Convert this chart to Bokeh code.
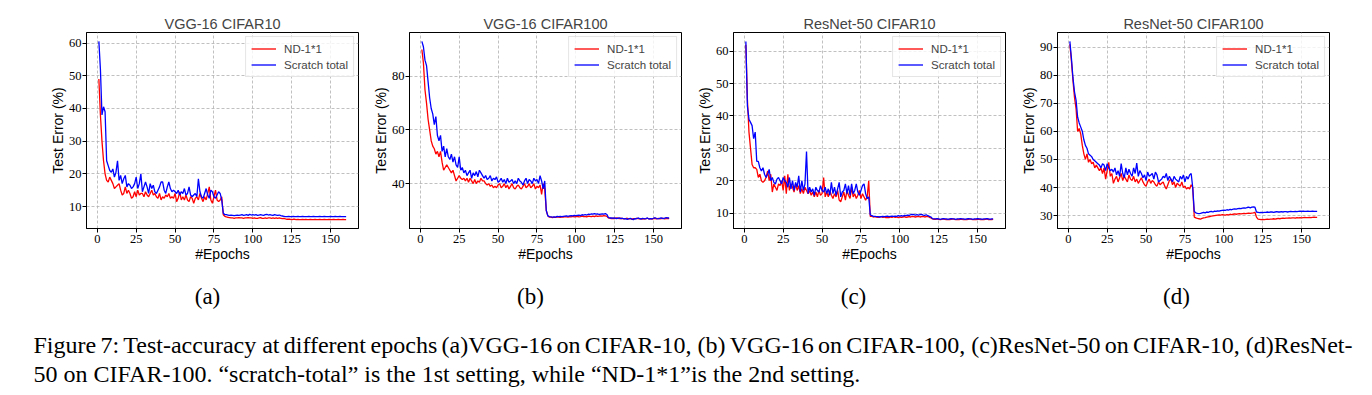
from bokeh.plotting import figure
from bokeh.layouts import column, row
from bokeh.models import Range1d, FixedTicker, Legend, LegendItem, Label
from bokeh.embed import file_html
from bokeh.resources import INLINE

EPOCHS = list(range(1, 161))
X_TICKS = [0, 25, 50, 75, 100, 125, 150]
TITLES = ["VGG-16 CIFAR10", "VGG-16 CIFAR100", "ResNet-50 CIFAR10", "ResNet-50 CIFAR100"]
SUBCAPTIONS = ["(a)", "(b)", "(c)", "(d)"]
SERIES_NAMES = ["ND-1*1", "Scratch total"]
Y_TICKS = [[10, 20, 30, 40, 50, 60], [40, 60, 80], [10, 20, 30, 40, 50, 60], [30, 40, 50, 60, 70, 80, 90]]
CAPTION_1 = ("Figure 7: Test-accuracy at different epochs (a)VGG-16 on CIFAR-10, (b) VGG-16 on CIFAR-100, "
             "(c)ResNet-50 on CIFAR-10, (d)ResNet-")
CAPTION_2 = "50 on CIFAR-100. \u201cscratch-total\u201d is the 1st setting, while \u201cND-1*1\u201dis the 2nd setting."

# (a) VGG-16 CIFAR10
A_ND = [49, 38, 30, 24, 20, 18, 17.5, 19, 18, 17,
        15.5, 16, 16.5, 17, 15, 13.5, 14, 16, 14, 15,
        14, 12.5, 13, 14.5, 13, 15, 13.5, 14, 14, 13,
        14.5, 13.5, 13, 14, 15, 13.5, 14, 13, 12.5, 14,
        12, 13, 12.5, 13.5, 13, 14, 12.5, 13, 12.5, 14,
        11.5, 12.5, 14.5, 12, 13, 12, 13.5, 12, 11.5, 13,
        12.5, 11, 12.5, 13, 12, 14, 12.5, 11.5, 13, 12,
        14, 16, 12, 11, 13, 15, 12, 11.5, 12, 13,
        7.5, 7, 6.8, 6.7, 6.6, 6.5, 6.5, 6.4, 6.5, 6.5,
        6.6, 6.5, 6.5, 6.4, 6.5, 6.5, 6.6, 6.5, 6.5, 6.4,
        6.5, 6.4, 6.4, 6.5, 6.6, 6.4, 6.4, 6.5, 6.4, 6.5,
        6.5, 6.4, 6.5, 6.4, 6.5, 6.4, 6.5, 6.4, 6.3, 6.4,
        6.2, 6.1, 6.1, 6.1, 6.0, 6.1, 6.1, 6.0, 6.1, 6.0,
        6.0, 6.1, 6.0, 6.1, 6.0, 6.0, 6.1, 6.0, 6.0, 6.1,
        6.0, 6.0, 6.1, 6.0, 6.0, 6.1, 6.0, 6.0, 6.1, 6.0,
        6.0, 6.1, 6.0, 6.0, 6.1, 6.0, 6.0, 6.1, 6.0, 6.0]
A_SC = [60.5, 52, 38, 40.5, 39, 24, 22.5, 21, 20.5, 21.5,
        19, 20.5, 24, 18, 19.5, 17, 18.5, 19.5, 16, 17,
        16.5, 15.5, 16, 17, 19, 15.5, 17, 20, 14.5, 16,
        17.5, 16, 14, 17, 15.5, 16.5, 14.5, 14, 15, 16,
        17.5, 17.5, 15, 14, 16, 17.5, 15.5, 14.5, 15, 14.5,
        14, 15, 13.5, 14.5, 14, 15.5, 13.5, 14, 16, 13.5,
        13, 13.5, 14, 13, 18.5, 14.5, 13, 12.5, 14, 15.5,
        13.5, 12.5, 15, 14.5, 13, 12.5, 13.5, 14.5, 14, 12,
        8, 7.5, 7.5, 7.4, 7.3, 7.4, 7.3, 7.2, 7.3, 7.4,
        7.3, 7.4, 7.5, 7.3, 7.4, 7.5, 7.3, 7.6, 7.4, 7.5,
        7.4, 7.5, 7.3, 7.4, 7.5, 7.4, 7.3, 7.5, 7.6, 7.4,
        7.5, 7.4, 7.3, 7.5, 7.4, 7.3, 7.4, 7.2, 7.1, 7.0,
        6.9, 6.9, 7.0, 6.9, 6.9, 7.0, 6.9, 6.9, 7.0, 6.9,
        6.9, 7.0, 6.9, 6.9, 6.9, 7.0, 6.9, 6.9, 7.0, 6.9,
        6.9, 6.9, 7.0, 6.9, 6.9, 7.0, 6.9, 6.9, 6.9, 7.0,
        6.9, 6.9, 7.0, 6.9, 6.9, 7.0, 6.9, 6.9, 6.9, 6.9]

# (b) VGG-16 CIFAR100
B_ND = [90, 85, 75, 70, 64, 60, 56, 54, 53, 51,
        52, 50, 52, 48, 45, 46, 47, 46, 45, 44,
        45, 43, 41, 42, 43, 42, 41.5, 42, 41, 42,
        40.5, 42, 41, 40, 41.5, 40, 41, 40.5, 42, 41,
        41, 40, 39.5, 40, 39, 39.5, 38.5, 39, 38.5, 39.5,
        40, 38.5, 39, 40, 38.5, 39.5, 38, 39, 40, 38.5,
        38, 39, 39.5, 38.5, 38, 39, 40, 38.5, 39, 40,
        38.5, 39, 40, 38, 39, 38.5, 39.5, 36, 40, 38,
        30, 28, 27.5, 27.5, 27.3, 27.5, 27.4, 27.6, 27.5, 27.4,
        27.6, 27.5, 27.7, 27.6, 27.5, 27.7, 27.6, 27.8, 27.6, 27.7,
        27.8, 27.6, 27.7, 27.9, 27.7, 27.8, 27.6, 27.9, 27.8, 27.7,
        27.9, 27.7, 28.0, 27.8, 27.9, 28.0, 27.9, 28.1, 28.0, 27.8,
        27.2, 27.1, 27.0, 27.1, 27.0, 27.2, 27.1, 27.0, 27.1, 27.0,
        26.9, 27.0, 27.1, 26.9, 27.0, 26.8, 27.0, 26.9, 27.1, 27.0,
        26.9, 27.0, 26.8, 27.0, 26.9, 27.1, 26.9, 27.0, 26.8, 27.0,
        27.0, 26.9, 27.1, 26.9, 27.0, 27.1, 26.9, 27.0, 27.1, 27.0]
B_SC = [93, 91, 86, 84, 78, 72, 68, 66, 62, 65,
        58, 56, 58, 52, 54, 50, 53, 50, 49, 51,
        48, 50, 47, 46, 50, 45, 46, 44, 45, 43,
        44, 45, 42, 44, 43, 44.5, 42.5, 45, 44, 43,
        42, 43, 41.5, 42, 43, 41, 42, 41.5, 42.5, 40.5,
        41, 42, 40.5, 41.5, 40, 42, 40.5, 41, 41.5, 40,
        41, 40, 42, 41, 40.5, 39.5, 41, 42, 40, 41.5,
        41, 40, 42, 41, 41.5, 40, 43, 41, 38, 41,
        30, 28, 27.7, 27.6, 27.5, 27.6, 27.5, 27.8, 27.7, 27.8,
        27.7, 27.8, 27.9, 28.0, 27.8, 28.0, 28.1, 28.0, 28.2, 28.1,
        28.2, 28.3, 28.1, 28.4, 28.3, 28.5, 28.3, 28.6, 28.5, 28.7,
        28.6, 28.8, 28.6, 28.7, 28.5, 28.6, 28.7, 28.6, 28.8, 28.5,
        27.3, 27.2, 27.2, 27.1, 27.2, 27.0, 27.1, 27.2, 27.0, 27.1,
        26.9, 27.0, 26.7, 26.9, 27.1, 26.8, 26.6, 27.0, 26.9, 27.2,
        27.0, 26.8, 27.1, 26.9, 27.0, 27.2, 26.8, 27.0, 26.9, 27.1,
        27.3, 27.0, 26.9, 27.1, 27.2, 27.0, 27.1, 27.3, 27.2, 27.2]

# (c) ResNet-50 CIFAR10
C_ND = [62, 45, 35, 30, 25, 24, 24, 23.5, 21, 22,
        20, 19.5, 20, 21, 23, 20, 22, 16.5, 19, 18,
        17, 19, 18.5, 20, 17, 21.5, 16, 22, 17, 19,
        18, 16.5, 19, 17, 18.5, 16, 17.5, 16, 18, 17,
        16, 17, 15.5, 16.5, 15, 16.5, 15, 17, 15.5, 16,
        21, 15, 16.5, 15, 17, 15.5, 14.5, 16, 15, 17,
        14, 13.5, 15, 16.5, 14, 17, 15.5, 14.5, 18, 15,
        16, 14.5, 15.5, 17, 14.5, 16, 15, 14, 15, 20,
        9, 9, 8.8, 8.9, 8.8, 8.7, 8.8, 8.9, 8.7, 8.8,
        8.6, 8.7, 8.6, 8.8, 8.7, 8.9, 8.7, 8.8, 8.6, 8.8,
        8.7, 8.8, 8.9, 8.7, 8.8, 8.9, 8.8, 9.0, 8.9, 8.8,
        8.9, 9.0, 8.8, 8.9, 9.0, 8.8, 8.9, 9.0, 8.7, 8.5,
        8.2, 8.1, 8.1, 8.2, 8.1, 8.0, 8.1, 8.2, 8.1, 8.0,
        8.1, 8.0, 8.1, 8.2, 8.1, 8.0, 8.1, 8.0, 8.1, 8.1,
        8.0, 8.1, 8.0, 8.1, 8.2, 8.1, 8.0, 8.1, 8.0, 8.1,
        8.1, 8.0, 8.1, 8.0, 8.1, 8.2, 8.0, 8.1, 8.0, 8.1]
C_SC = [63, 43, 39, 38, 37, 33, 35, 26, 26, 24,
        23, 24, 22, 21, 22, 23.5, 20, 21, 19.5, 19,
        20.5, 21, 20, 19, 21, 20, 19.5, 18, 21, 17.5,
        20, 17, 19.5, 18, 21.5, 16.5, 20, 17, 19, 29,
        16, 18, 16.5, 17.5, 15.5, 18, 17, 16.5, 18.5, 17,
        16.5, 18, 16, 17.5, 15.5, 19.5, 16, 18, 15.5, 17.5,
        19.5, 15, 16.5, 17, 19, 16, 18.5, 15.5, 19, 16,
        17, 19, 16.5, 15.5, 17, 18.5, 19, 16, 14.5, 15,
        9.5, 9.2, 9.0, 9.0, 8.9, 8.9, 8.8, 8.9, 9.0, 8.9,
        9.0, 9.1, 8.9, 9.0, 9.1, 9.0, 9.1, 9.0, 9.2, 9.1,
        9.2, 9.1, 9.3, 9.2, 9.4, 9.3, 9.5, 9.6, 9.5, 9.4,
        9.5, 9.4, 9.5, 9.6, 9.4, 9.3, 9.5, 9.2, 9.0, 8.8,
        8.3, 8.2, 8.2, 8.3, 8.2, 8.1, 8.2, 8.3, 8.2, 8.2,
        8.1, 8.2, 8.3, 8.2, 8.2, 8.1, 8.2, 8.2, 8.3, 8.2,
        8.2, 8.1, 8.2, 8.3, 8.2, 8.2, 8.1, 8.2, 8.2, 8.3,
        8.2, 8.2, 8.1, 8.2, 8.2, 8.3, 8.2, 8.1, 8.2, 8.2]

# (d) ResNet-50 CIFAR100
D_ND = [91, 85, 78, 72, 68, 60, 61, 59, 55, 52,
        50, 52, 49, 50, 48.5, 49, 47, 48, 47, 46,
        47, 45, 47, 43, 46, 49, 44, 45, 41.5, 43,
        44, 42, 43.5, 45, 42.5, 44, 43, 42, 44.5, 43,
        42.5, 44, 42, 43, 41.5, 42.5, 43.5, 42, 41, 40.5,
        42, 43, 41.5, 42.5, 42, 41, 40.5, 42, 41, 41.5,
        42, 40.5, 39.5, 41, 42.5, 43, 41, 42, 40, 41.5,
        41, 40.5, 42, 40, 40.5, 39.5, 40, 39.5, 41, 40,
        29.5, 29.2, 29.0, 28.9, 28.8, 29.0, 29.2, 29.3, 29.5, 29.6,
        29.7, 29.8, 29.9, 30.0, 30.1, 30.2, 30.3, 30.2, 30.4, 30.3,
        30.2, 30.4, 30.3, 30.5, 30.4, 30.5, 30.6, 30.5, 30.6, 30.7,
        30.6, 30.7, 30.8, 30.7, 30.8, 30.9, 30.8, 30.9, 31.0, 31.2,
        29.5, 28.8, 28.7, 28.6, 28.7, 28.6, 28.7, 28.8, 28.7, 28.8,
        28.8, 28.9, 28.8, 28.9, 29.0, 28.9, 29.0, 29.1, 29.0, 29.1,
        29.1, 29.2, 29.1, 29.2, 29.2, 29.1, 29.3, 29.2, 29.3, 29.2,
        29.3, 29.4, 29.3, 29.3, 29.4, 29.3, 29.4, 29.5, 29.4, 29.4]
D_SC = [92, 86, 79, 74, 71, 65, 63, 61.5, 60, 57,
        55, 54, 52, 51.5, 51, 50, 49.5, 49, 48.5, 48,
        47, 48.5, 48, 46, 48.5, 47, 46, 46.5, 45.5, 47,
        44.5, 46, 44, 48.5, 45, 43.5, 47, 44.5, 46.5, 45,
        44, 47, 45, 48.7, 44, 46, 45, 43.5, 44.5, 42.5,
        45.5, 44, 44.5, 45, 43, 45.5, 44.5, 42, 42.5, 43,
        44, 43.5, 45, 42.5, 44, 43, 42, 44, 43, 42.5,
        42, 44, 43, 44.5, 42, 44, 43, 44.5, 45, 40,
        31.5, 31.0, 30.8, 30.7, 30.8, 31.0, 31.2, 31.0, 31.3, 31.2,
        31.4, 31.5, 31.3, 31.6, 31.5, 31.7, 31.6, 31.8, 31.9, 32.0,
        31.9, 32.1, 32.0, 32.2, 32.1, 32.3, 32.4, 32.3, 32.5, 32.6,
        32.5, 32.7, 32.8, 32.7, 32.9, 33.0, 32.8, 33.0, 33.1, 33.0,
        31.3, 31.2, 31.1, 31.2, 31.1, 31.2, 31.2, 31.3, 31.2, 31.3,
        31.3, 31.2, 31.3, 31.4, 31.3, 31.3, 31.4, 31.3, 31.4, 31.4,
        31.3, 31.4, 31.5, 31.4, 31.4, 31.5, 31.4, 31.5, 31.6, 31.5,
        31.6, 31.5, 31.5, 31.6, 31.5, 31.5, 31.6, 31.5, 31.5, 31.5]

ND_SERIES = [A_ND, B_ND, C_ND, D_ND]
SC_SERIES = [A_SC, B_SC, C_SC, D_SC]

SANS = "Liberation Sans"
SERIF = "Liberation Serif"

# Times / Liberation Serif advance widths (1/1000 em), used to justify the caption's first line
TIMES_W = {" ": 250, "(": 333, ")": 333, ",": 250, "-": 333, ".": 250, ":": 278, "*": 500,
           "A": 722, "C": 667, "D": 722, "F": 556, "G": 722, "I": 333, "N": 722, "R": 667,
           "S": 556, "T": 611, "V": 722,
           "a": 444, "b": 500, "c": 444, "d": 500, "e": 444, "f": 333, "g": 500, "h": 500,
           "i": 278, "k": 500, "l": 278, "m": 778, "n": 500, "o": 500, "p": 500, "r": 333,
           "s": 389, "t": 278, "u": 500, "w": 722, "y": 500}


def text_w(s, size):
    return sum(TIMES_W.get(ch, 500) for ch in s) * size / 1000.0


def make_panel(idx, left_border, width):
    nd, sc = ND_SERIES[idx], SC_SERIES[idx]
    vals = nd + sc
    lo, hi = min(vals), max(vals)
    pad = 0.05 * (hi - lo)
    xlo, xhi = min(EPOCHS), max(EPOCHS)
    xpad = 0.05 * (xhi - xlo)
    p = figure(width=width, height=268,
               x_range=Range1d(xlo - xpad, xhi + xpad),
               y_range=Range1d(lo - pad, hi + pad),
               output_backend="svg", toolbar_location=None,
               min_border_left=left_border, min_border_right=2,
               min_border_top=32, min_border_bottom=40)
    p.title.text = TITLES[idx]
    p.title.align = "center"
    p.title.text_font = SANS
    p.title.text_font_size = "14.5px"
    p.title.text_font_style = "normal"
    p.title.standoff = 2
    p.outline_line_color = "black"
    p.outline_line_width = 1
    p.outline_line_alpha = 1

    p.xaxis.ticker = FixedTicker(ticks=X_TICKS)
    p.yaxis.ticker = FixedTicker(ticks=Y_TICKS[idx])
    p.xaxis.axis_label = "#Epochs"
    p.yaxis.axis_label = "Test Error (%)"
    for ax in (p.xaxis[0], p.yaxis[0]):
        ax.axis_line_color = "black"
        ax.major_tick_line_color = "black"
        ax.major_tick_out = 4
        ax.major_tick_in = 0
        ax.minor_tick_line_color = None
        ax.major_label_text_font = SERIF
        ax.major_label_text_font_size = "12.5px"
        ax.major_label_text_color = "black"
        ax.axis_label_text_font = SANS
        ax.axis_label_text_font_size = "14px"
        ax.axis_label_text_font_style = "normal"
        ax.axis_label_text_color = "black"
    p.xaxis.major_label_standoff = 2
    p.yaxis.major_label_standoff = 1
    p.xaxis.axis_label_standoff = 0
    p.yaxis.axis_label_standoff = 0

    p.grid.grid_line_color = "#b0b0b0"
    p.grid.grid_line_dash = "3 2"
    p.grid.grid_line_width = 0.8

    r1 = p.line(EPOCHS, nd, line_color="#ff0000", line_width=1.3)
    r2 = p.line(EPOCHS, sc, line_color="#0000ff", line_width=1.3)
    leg = Legend(items=[LegendItem(label=SERIES_NAMES[0], renderers=[r1]),
                        LegendItem(label=SERIES_NAMES[1], renderers=[r2])],
                 location="top_right")
    leg.label_text_font = SANS
    leg.label_text_font_size = "11.5px"
    leg.glyph_width = 25
    leg.glyph_height = 13
    leg.label_height = 13
    leg.spacing = 3
    leg.padding = 5
    leg.margin = 4
    leg.label_standoff = 8
    leg.border_line_color = "#cccccc"
    leg.border_line_width = 1
    leg.background_fill_alpha = 0.8
    p.add_layout(leg)
    return p


PANEL_LEFT = [86, 49, 50, 50]
PANEL_W = [360, 323, 324, 324]
panels = [make_panel(i, PANEL_LEFT[i], PANEL_W[i]) for i in range(4)]

CAP_W, CAP_H = 1364, 119
CAP_SIZE = 24
cap = figure(width=CAP_W, height=CAP_H, x_range=Range1d(0, CAP_W), y_range=Range1d(0, CAP_H),
             x_axis_type=None, y_axis_type=None, min_border=0, outline_line_color=None,
             output_backend="svg", toolbar_location=None)
cap.grid.visible = False


def cap_label(x, y, s, align="left", size=CAP_SIZE):
    cap.add_layout(Label(x=x, y=y, x_units="screen", y_units="screen", text=s,
                         text_align=align, text_baseline="middle",
                         text_font=SERIF, text_font_size=f"{size}px", text_color="black"))


SUB_X = [207, 530, 853, 1176]
for sx, s in zip(SUB_X, SUBCAPTIONS):
    cap_label(sx, CAP_H - 28, s, "center", 23)

# first caption line: justified between the two margins
LINE_L, LINE_R = 33, 1352
words = CAPTION_1.split(" ")
natural = sum(text_w(w, CAP_SIZE) for w in words)
gap = (LINE_R - LINE_L - natural) / (len(words) - 1)
xpos = LINE_L
for w in words:
    cap_label(xpos, CAP_H - 76, w)
    xpos += text_w(w, CAP_SIZE) + gap
cap_label(LINE_L, CAP_H - 105, CAPTION_2)

layout = column(row(*panels, spacing=0), cap, spacing=0)
open("out.html", "w").write(file_html(layout, INLINE))
